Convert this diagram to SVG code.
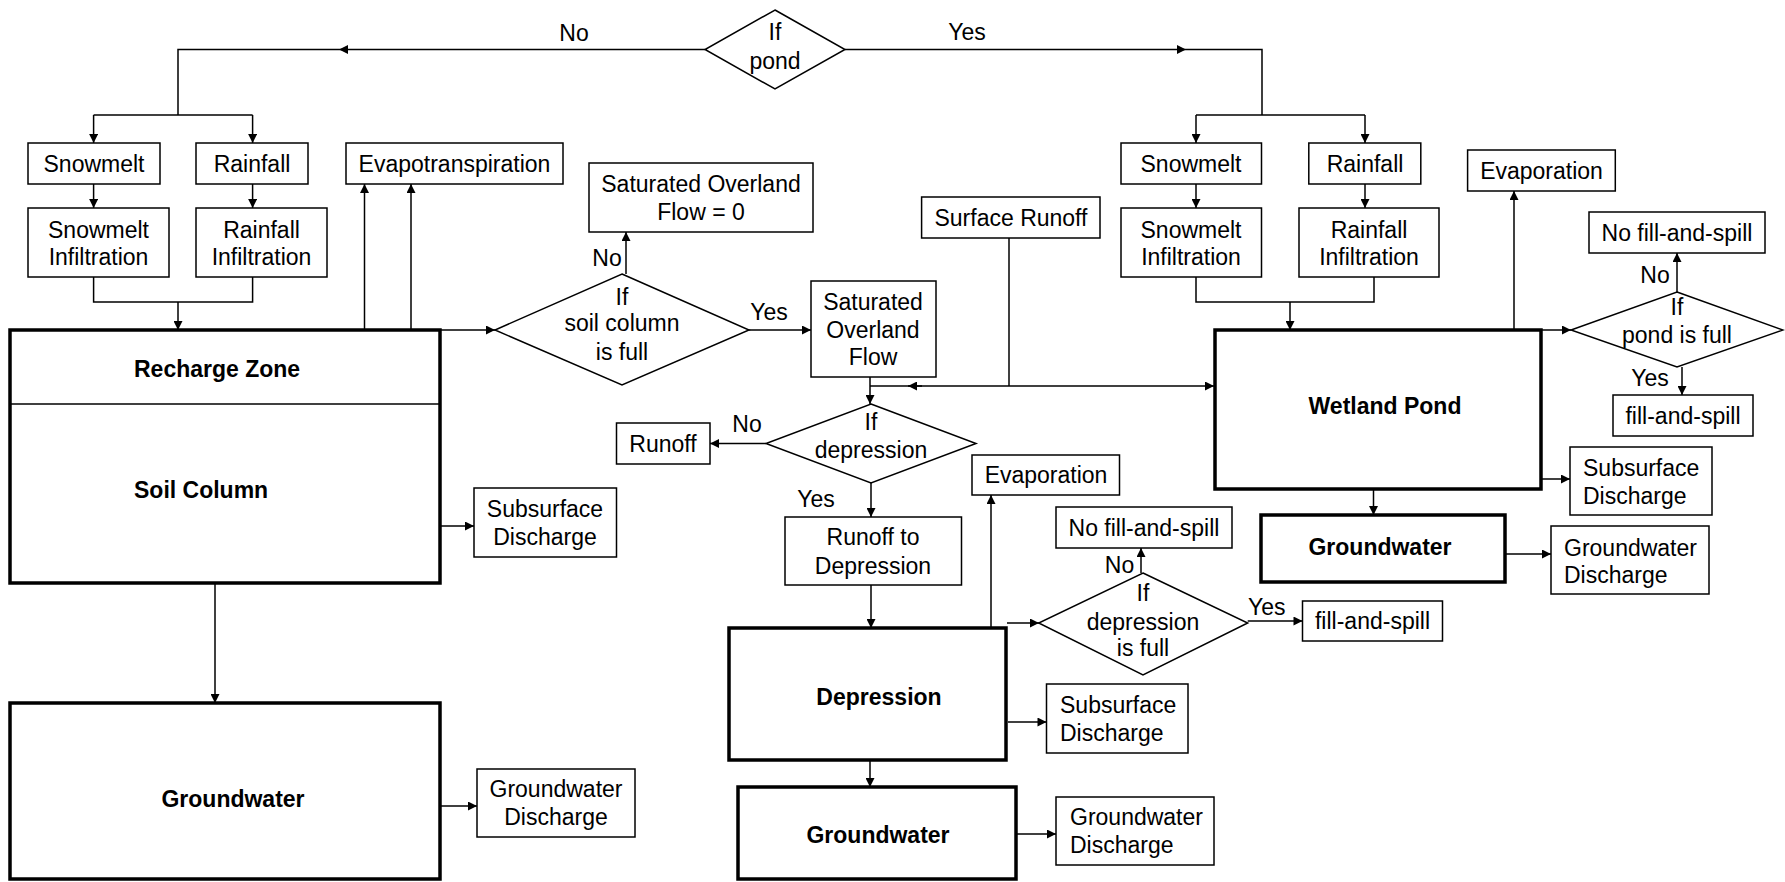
<svg xmlns="http://www.w3.org/2000/svg" width="1785" height="882" viewBox="0 0 1785 882">
<style>
.box{fill:#fff;stroke:#000;stroke-width:1.5}
.big{fill:#fff;stroke:#000;stroke-width:3.5}
.c{fill:none;stroke:#000;stroke-width:1.5}
.ca{fill:none;stroke:#000;stroke-width:1.5;marker-end:url(#ah)}
text{font-family:"Liberation Sans",Arial,sans-serif;font-size:23px;fill:#000}
.m{text-anchor:middle}
.b{font-weight:bold}
</style>
<defs>
<marker id="ah" viewBox="0 0 10 10" refX="10" refY="5" markerWidth="10" markerHeight="9" markerUnits="userSpaceOnUse" orient="auto"><path d="M0,0 L10,5 L0,10 z" fill="#000"/></marker>
</defs>
<rect width="1785" height="882" fill="#fff"/>

<g id="connectors">
<path class="ca" d="M705,49.5 L339,49.5"/>
<path class="c" d="M339,49.5 L178,49.5 L178,115"/>
<path class="c" d="M93.6,115 L252.6,115"/>
<path class="ca" d="M93.6,115 L93.6,143"/>
<path class="ca" d="M252.6,115 L252.6,143"/>
<path class="ca" d="M845,49.5 L1186,49.5"/>
<path class="c" d="M1186,49.5 L1262,49.5 L1262,115"/>
<path class="c" d="M1196,115 L1365,115"/>
<path class="ca" d="M1196,115 L1196,143"/>
<path class="ca" d="M1365,115 L1365,143"/>
<path class="ca" d="M93.6,184 L93.6,208"/>
<path class="ca" d="M252.6,184 L252.6,208"/>
<path class="c" d="M93.6,277 L93.6,302 L252.6,302 L252.6,277"/>
<path class="ca" d="M178,302 L178,330"/>
<path class="ca" d="M1196,184 L1196,208"/>
<path class="ca" d="M1365,184 L1365,208"/>
<path class="c" d="M1196,277 L1196,302 L1374,302 L1374,277"/>
<path class="ca" d="M1290,302 L1290,330"/>
<path class="ca" d="M364.5,330 L364.5,184"/>
<path class="ca" d="M411,404 L411,184"/>
<path class="ca" d="M440,330 L495,330"/>
<path class="ca" d="M626,274 L626,232"/>
<path class="ca" d="M749,330 L811,330"/>
<path class="ca" d="M870,377 L870,404"/>
<path class="ca" d="M870,386 L1214,386"/>
<path class="ca" d="M922,386 L908,386"/>
<path class="c" d="M1009,238 L1009,386"/>
<path class="ca" d="M766,443.5 L710,443.5"/>
<path class="ca" d="M871,483 L871,517"/>
<path class="ca" d="M871,585 L871,628"/>
<path class="ca" d="M870,760 L870,787"/>
<path class="ca" d="M991,628 L991,495"/>
<path class="ca" d="M1007,623 L1039,623"/>
<path class="ca" d="M1141,573 L1141,548"/>
<path class="ca" d="M1247.7,621 L1302.5,621"/>
<path class="ca" d="M1008,722 L1046.5,722"/>
<path class="ca" d="M1016,834 L1056,834"/>
<path class="ca" d="M440,526 L474,526"/>
<path class="ca" d="M215,583 L215,703"/>
<path class="ca" d="M440,806 L477,806"/>
<path class="ca" d="M1514,330 L1514,191"/>
<path class="ca" d="M1541,330 L1571,330"/>
<path class="ca" d="M1677,292 L1677,253"/>
<path class="ca" d="M1682,367 L1682,395"/>
<path class="ca" d="M1541,479 L1570,479"/>
<path class="ca" d="M1373.5,489 L1373.5,515"/>
<path class="ca" d="M1505,554 L1551,554"/>
<text class="m" x="574" y="41">No</text>
<text class="m" x="967" y="40">Yes</text>
<text class="m" x="607" y="266">No</text>
<text class="m" x="769" y="320">Yes</text>
<text class="m" x="747" y="432">No</text>
<text class="m" x="816" y="507">Yes</text>
<text class="m" x="1119.5" y="573">No</text>
<text class="m" x="1266.7" y="615">Yes</text>
<text class="m" x="1655" y="283">No</text>
<text class="m" x="1650" y="386">Yes</text>
</g>

<g id="ifPond"><polygon class="box" points="775,10 845,49.5 775,89 705,49.5"/><text class="m" x="775" y="40">If</text><text class="m" x="775" y="69">pond</text></g>
<g id="snowmeltL"><rect class="box" x="28" y="143" width="132" height="41"/><text class="m" x="94" y="172">Snowmelt</text></g>
<g id="rainfallL"><rect class="box" x="196" y="143" width="112" height="41"/><text class="m" x="252" y="172">Rainfall</text></g>
<g id="evapotranspiration"><rect class="box" x="346" y="143" width="217" height="41"/><text class="m" x="454.5" y="172">Evapotranspiration</text></g>
<g id="snowInfL"><rect class="box" x="28" y="208" width="141" height="69"/><text class="m" x="98.5" y="238">Snowmelt</text><text class="m" x="98.5" y="265">Infiltration</text></g>
<g id="rainInfL"><rect class="box" x="196" y="208" width="131" height="69"/><text class="m" x="261.5" y="238">Rainfall</text><text class="m" x="261.5" y="265">Infiltration</text></g>
<g id="soilColumn"><rect class="big" x="10" y="330" width="430" height="253"/><line x1="10" y1="404" x2="440" y2="404" stroke="#000" stroke-width="1.5"/><text class="b" x="134" y="377">Recharge Zone</text><text class="b" x="134" y="498">Soil Column</text></g>
<g id="satZero"><rect class="box" x="589" y="163" width="224" height="69"/><text class="m" x="701" y="192">Saturated Overland</text><text class="m" x="701" y="220">Flow = 0</text></g>
<g id="ifSoilFull"><polygon class="box" points="622,274 749,330 622,385 495,330"/><text class="m" x="622" y="305">If</text><text class="m" x="622" y="331">soil column</text><text class="m" x="622" y="360">is full</text></g>
<g id="sof"><rect class="box" x="811" y="281" width="125" height="96"/><text class="m" x="873" y="310">Saturated</text><text class="m" x="873" y="338">Overland</text><text class="m" x="873" y="365">Flow</text></g>
<g id="surfaceRunoff"><rect class="box" x="921.6" y="197" width="178.4" height="41"/><text class="m" x="1011" y="225.5">Surface Runoff</text></g>
<g id="snowmeltR"><rect class="box" x="1121" y="143" width="140.5" height="41"/><text class="m" x="1191" y="172">Snowmelt</text></g>
<g id="rainfallR"><rect class="box" x="1308.8" y="143" width="112" height="41"/><text class="m" x="1365" y="172">Rainfall</text></g>
<g id="snowInfR"><rect class="box" x="1121" y="208" width="140.5" height="69"/><text class="m" x="1191" y="238">Snowmelt</text><text class="m" x="1191" y="265">Infiltration</text></g>
<g id="rainInfR"><rect class="box" x="1299" y="208" width="140" height="69"/><text class="m" x="1369" y="238">Rainfall</text><text class="m" x="1369" y="265">Infiltration</text></g>
<g id="evapWP"><rect class="box" x="1467.6" y="150" width="147.7" height="41"/><text class="m" x="1541.5" y="178.5">Evaporation</text></g>
<g id="noFillWP"><rect class="box" x="1589" y="212" width="176" height="41"/><text class="m" x="1677" y="240.5">No fill-and-spill</text></g>
<g id="ifPondFull"><polygon class="box" points="1677,292 1783,330 1677,367 1571,330"/><text class="m" x="1677" y="315">If</text><text class="m" x="1677" y="343">pond is full</text></g>
<g id="fillWP"><rect class="box" x="1613" y="395" width="140" height="41"/><text class="m" x="1683" y="423.5">fill-and-spill</text></g>
<g id="wetlandPond"><rect class="big" x="1215" y="330" width="326" height="159"/><text class="m b" x="1385" y="414">Wetland Pond</text></g>
<g id="subWP"><rect class="box" x="1570" y="447" width="142" height="68"/><text x="1583" y="476">Subsurface</text><text x="1583" y="504">Discharge</text></g>
<g id="gwWP"><rect class="big" x="1261" y="515" width="244" height="67"/><text class="m b" x="1380" y="555">Groundwater</text></g>
<g id="gwdWP"><rect class="box" x="1551" y="526" width="158" height="68"/><text x="1564" y="555.5">Groundwater</text><text x="1564" y="583">Discharge</text></g>
<g id="ifDepression"><polygon class="box" points="871,404 976,443.5 871,483 766,443.5"/><text class="m" x="871" y="430">If</text><text class="m" x="871" y="458">depression</text></g>
<g id="runoff"><rect class="box" x="616.5" y="423" width="93.5" height="41"/><text class="m" x="663" y="451.5">Runoff</text></g>
<g id="runoffToDep"><rect class="box" x="785" y="517" width="176.5" height="68"/><text class="m" x="873" y="545">Runoff to</text><text class="m" x="873" y="574">Depression</text></g>
<g id="evapDep"><rect class="box" x="972" y="455" width="147.5" height="40"/><text class="m" x="1046" y="483">Evaporation</text></g>
<g id="noFillDep"><rect class="box" x="1056" y="507" width="176" height="41"/><text class="m" x="1144" y="535.5">No fill-and-spill</text></g>
<g id="ifDepFull"><polygon class="box" points="1143,573 1247.7,623 1143,675 1038.7,623"/><text class="m" x="1143" y="601">If</text><text class="m" x="1143" y="630">depression</text><text class="m" x="1143" y="656">is full</text></g>
<g id="fillDep"><rect class="box" x="1302.5" y="601" width="140" height="40"/><text class="m" x="1372.5" y="629">fill-and-spill</text></g>
<g id="depression"><rect class="big" x="729" y="628" width="277" height="132"/><text class="m b" x="879" y="705">Depression</text></g>
<g id="gwDep"><rect class="big" x="738" y="787" width="278" height="92"/><text class="m b" x="878" y="843">Groundwater</text></g>
<g id="subDep"><rect class="box" x="1046.5" y="684" width="141.5" height="69"/><text x="1060" y="713">Subsurface</text><text x="1060" y="741">Discharge</text></g>
<g id="gwdDep"><rect class="box" x="1056" y="797" width="158" height="68"/><text x="1070" y="825">Groundwater</text><text x="1070" y="853">Discharge</text></g>
<g id="subSoil"><rect class="box" x="474" y="488" width="142.5" height="69"/><text class="m" x="545" y="517">Subsurface</text><text class="m" x="545" y="545">Discharge</text></g>
<g id="gwSoil"><rect class="big" x="10" y="703" width="430" height="176"/><text class="m b" x="233" y="807">Groundwater</text></g>
<g id="gwdSoil"><rect class="box" x="477" y="769" width="158" height="68"/><text class="m" x="556" y="797">Groundwater</text><text class="m" x="556" y="825">Discharge</text></g>
</svg>
